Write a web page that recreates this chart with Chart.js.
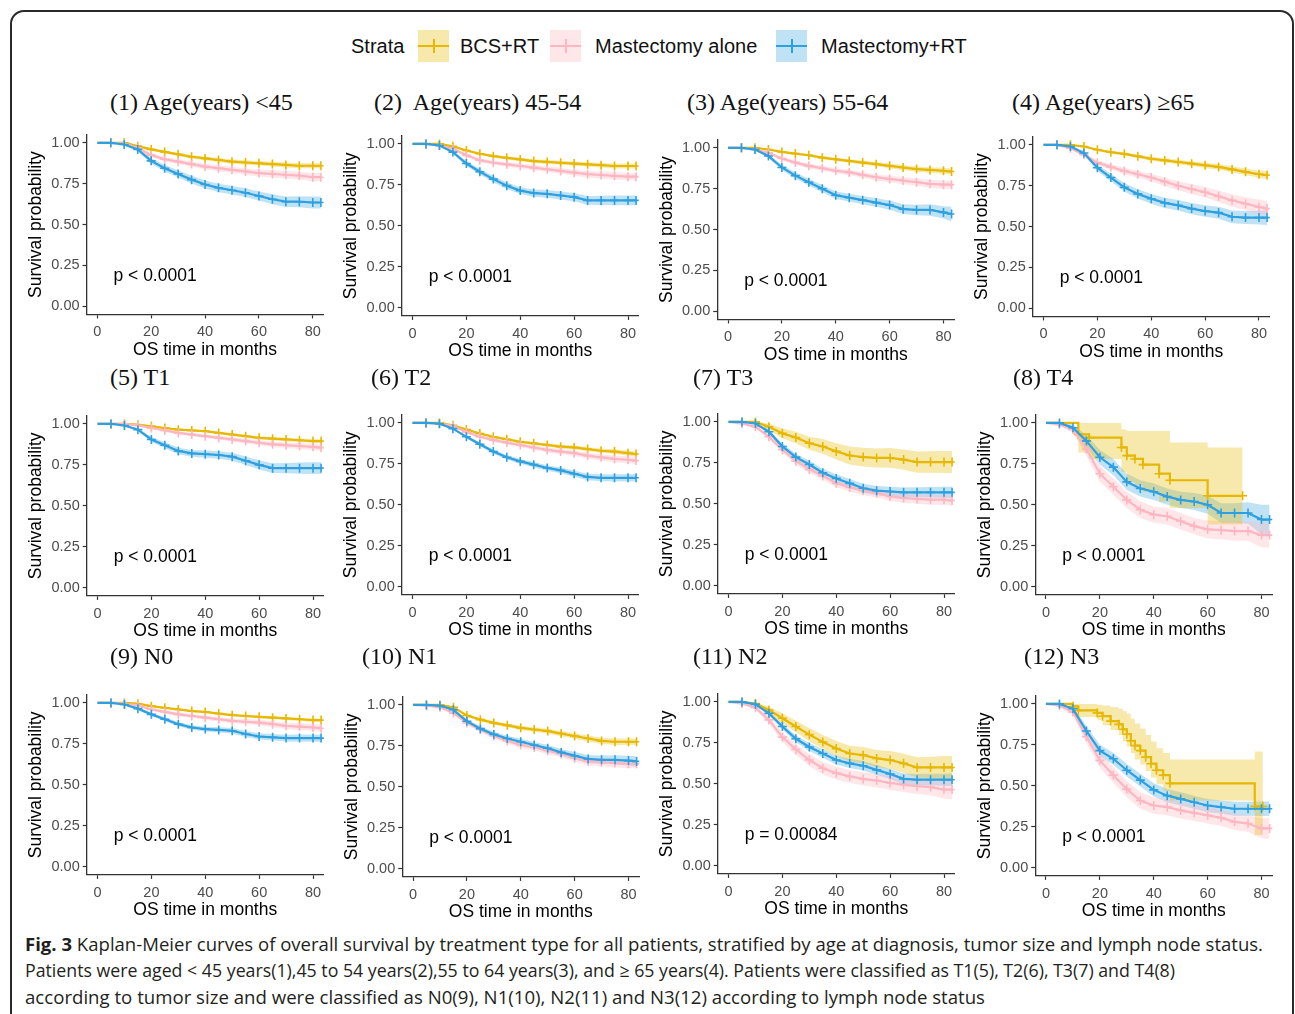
<!DOCTYPE html>
<html><head><meta charset="utf-8">
<script src="https://cdn.jsdelivr.net/npm/chart.js@4.4.1/dist/chart.umd.min.js"></script>
<style>
html,body{margin:0;padding:0;background:#fff}
body{width:1295px;height:1014px;position:relative;overflow:hidden;font-family:"Liberation Sans",Arial,sans-serif}
#frame{position:absolute;left:10px;top:10px;width:1284px;height:1030px;border:2px solid #2a2a2a;border-radius:14px;box-sizing:border-box}
.ptitle{position:absolute;font-family:"Liberation Serif","Times New Roman",serif;font-size:24px;line-height:24px;color:#111;white-space:pre;transform:translateY(-50%)}
canvas{position:absolute}
.lt{position:absolute;top:46px;transform:translateY(-50%);font-size:20px;line-height:20px;color:#111;white-space:pre}
.key{position:absolute;top:30px;width:31px;height:32px}
.key i{position:absolute;left:0;right:0;top:15px;height:2px}
.key b{position:absolute;left:14.5px;width:2px;top:9px;height:14px}
.cap{position:absolute;left:25px;font-family:"Open Sans","Noto Sans",sans-serif;font-size:18px;line-height:20px;color:#231f20;white-space:pre;transform-origin:0 50%}
</style></head>
<body>
<div id="frame"></div>
<div id="legend"></div>
<div id="panels"></div>
<div class="cap" id="cap1" style="top:934px"><b>Fig. 3</b> Kaplan-Meier curves of overall survival by treatment type for all patients, stratified by age at diagnosis, tumor size and lymph node status.</div>
<div class="cap" id="cap2" style="top:960px">Patients were aged &lt; 45 years(1),45 to 54 years(2),55 to 64 years(3), and ≥ 65 years(4). Patients were classified as T1(5), T2(6), T3(7) and T4(8)</div>
<div class="cap" id="cap3" style="top:987px">according to tumor size and were classified as N0(9), N1(10), N2(11) and N3(12) according to lymph node status</div>
<script>
// ---------------- DATA ----------------
const months = [0,5,10,15,20,25,30,35,40,45,50,55,60,65,70,75,80,83];
const strata = ['BCS+RT','Mastectomy alone','Mastectomy+RT'];
const panelTitles = ['(1) Age(years) <45','(2)  Age(years) 45-54','(3) Age(years) 55-64','(4) Age(years) \u226565',
  '(5) T1','(6) T2','(7) T3','(8) T4','(9) N0','(10) N1','(11) N2','(12) N3'];
const pValues = ['p < 0.0001','p < 0.0001','p < 0.0001','p < 0.0001','p < 0.0001','p < 0.0001',
  'p < 0.0001','p < 0.0001','p < 0.0001','p < 0.0001','p = 0.00084','p < 0.0001'];
const xTicks = [0,20,40,60,80];
const yTicks = [0,0.25,0.5,0.75,1];
const xTitle = 'OS time in months';
const yTitle = 'Survival probability';
const legendTitle = 'Strata';

// (1) Age <45
const p1_bcs     = [1,1,1,.98,.96,.945,.93,.915,.905,.895,.885,.88,.875,.87,.865,.86,.86,.86];
const p1_bcs_ci  = [0,0,0,.005,.008,.009,.01,.011,.012,.012,.013,.013,.014,.015,.015,.016,.016,.016];
const p1_mast    = [1,1,.995,.97,.925,.9,.885,.87,.855,.845,.835,.825,.815,.81,.805,.8,.79,.79];
const p1_mast_ci = [0,0,.003,.008,.012,.014,.015,.016,.017,.018,.019,.02,.021,.022,.023,.024,.025,.025];
const p1_mrt     = [1,1,.99,.96,.89,.845,.81,.775,.745,.725,.71,.695,.675,.655,.64,.64,.635,.635];
const p1_mrt_ci  = [0,0,.005,.012,.018,.02,.022,.023,.024,.025,.026,.027,.028,.03,.032,.034,.036,.036];
// (2) Age 45-54
const p2_bcs     = [1,1,1,.985,.96,.94,.925,.915,.905,.895,.89,.885,.88,.875,.87,.865,.865,.865];
const p2_bcs_ci  = [0,0,0,.004,.007,.008,.009,.01,.011,.011,.012,.012,.013,.013,.014,.014,.015,.015];
const p2_mast    = [1,1,.99,.97,.93,.9,.885,.875,.865,.855,.845,.835,.825,.815,.81,.805,.8,.8];
const p2_mast_ci = [0,0,.004,.008,.01,.012,.013,.014,.015,.016,.017,.018,.019,.02,.021,.022,.022,.022];
const p2_mrt     = [1,1,.99,.95,.88,.83,.785,.745,.715,.7,.695,.685,.675,.655,.655,.655,.655,.655];
const p2_mrt_ci  = [0,0,.005,.01,.015,.017,.019,.02,.021,.022,.023,.024,.025,.027,.028,.03,.03,.03];
// (3) Age 55-64
const p3_bcs     = [1,1,1,.99,.975,.965,.955,.94,.93,.92,.91,.9,.89,.88,.87,.865,.86,.855];
const p3_bcs_ci  = [0,0,0,.003,.006,.007,.008,.009,.01,.011,.012,.013,.014,.015,.016,.017,.018,.018];
const p3_mast    = [1,1,.99,.97,.935,.91,.89,.875,.86,.85,.835,.82,.81,.8,.79,.78,.775,.775];
const p3_mast_ci = [0,0,.004,.008,.011,.013,.014,.015,.016,.017,.018,.019,.02,.021,.022,.024,.025,.025];
const p3_mrt     = [1,1,.99,.95,.88,.83,.79,.75,.71,.695,.68,.665,.65,.625,.62,.62,.605,.595];
const p3_mrt_ci  = [0,0,.005,.011,.016,.019,.021,.022,.023,.024,.025,.026,.028,.03,.032,.035,.038,.045];
// (4) Age >=65
const p4_bcs     = [1,1,1,.99,.97,.955,.945,.93,.915,.905,.895,.885,.875,.865,.85,.835,.82,.815];
const p4_bcs_ci  = [0,0,0,.004,.007,.009,.01,.011,.012,.013,.014,.015,.016,.018,.019,.02,.022,.025];
const p4_mast    = [1,1,.98,.94,.89,.865,.84,.82,.8,.775,.75,.73,.71,.685,.66,.64,.62,.61];
const p4_mast_ci = [0,0,.006,.012,.016,.018,.02,.022,.024,.026,.028,.03,.032,.035,.038,.04,.045,.045];
const p4_mrt     = [1,1,.99,.95,.86,.8,.74,.7,.67,.645,.63,.61,.595,.585,.56,.555,.555,.555];
const p4_mrt_ci  = [0,0,.006,.013,.02,.023,.026,.028,.03,.031,.032,.034,.035,.037,.039,.04,.042,.045];
// (5) T1
const p5_bcs     = [1,1,1,.995,.985,.975,.965,.96,.955,.945,.935,.925,.915,.91,.905,.9,.895,.895];
const p5_bcs_ci  = [0,0,0,.002,.004,.005,.006,.007,.007,.008,.008,.009,.01,.01,.011,.011,.012,.012];
const p5_mast    = [1,1,1,.99,.975,.96,.945,.935,.925,.915,.905,.895,.885,.875,.87,.865,.86,.855];
const p5_mast_ci = [0,0,.002,.004,.006,.008,.009,.01,.011,.012,.013,.014,.015,.016,.017,.018,.019,.02];
const p5_mrt     = [1,1,.99,.965,.905,.87,.835,.82,.815,.81,.8,.775,.75,.73,.73,.73,.73,.73];
const p5_mrt_ci  = [0,0,.005,.01,.015,.018,.02,.021,.022,.023,.024,.026,.028,.03,.032,.034,.036,.036];
// (6) T2
const p6_bcs     = [1,1,1,.985,.96,.935,.915,.9,.885,.875,.865,.855,.85,.84,.83,.825,.815,.81];
const p6_bcs_ci  = [0,0,0,.003,.005,.006,.007,.008,.009,.009,.01,.011,.012,.012,.013,.014,.015,.015];
const p6_mast    = [1,1,.995,.98,.945,.915,.895,.88,.865,.85,.835,.825,.815,.8,.79,.78,.775,.77];
const p6_mast_ci = [0,0,.003,.005,.008,.01,.011,.012,.013,.014,.015,.016,.017,.018,.019,.02,.021,.021];
const p6_mrt     = [1,1,.995,.965,.915,.87,.825,.79,.765,.745,.725,.71,.69,.67,.665,.665,.665,.665];
const p6_mrt_ci  = [0,0,.003,.006,.01,.012,.013,.014,.015,.016,.017,.018,.019,.02,.021,.022,.023,.023];
// (7) T3
const p7_bcs     = [1,1,1,.97,.93,.905,.87,.85,.82,.795,.785,.78,.78,.77,.755,.755,.755,.755];
const p7_bcs_ci  = [0,0,0,.02,.03,.035,.04,.045,.05,.055,.057,.058,.06,.062,.065,.066,.067,.067];
const p7_mast    = [1,.99,.97,.91,.83,.76,.71,.67,.625,.6,.58,.565,.545,.535,.53,.525,.525,.52];
const p7_mast_ci = [0,.004,.008,.014,.018,.02,.022,.023,.024,.025,.026,.027,.028,.029,.03,.031,.032,.032];
const p7_mrt     = [1,1,.99,.94,.85,.785,.74,.69,.655,.625,.595,.58,.575,.57,.57,.57,.57,.57];
const p7_mrt_ci  = [0,0,.005,.012,.018,.021,.023,.024,.025,.026,.027,.028,.029,.03,.031,.032,.034,.034];
// (8) T4  (BCS+RT read at its own step times)
const p8_bcs_t   = [0,12,16,28,30,33,36,42,46,60,73];
const p8_bcs     = [1,.93,.91,.85,.80,.78,.745,.69,.65,.555,.555];
const p8_bcs_lo  = [1,.82,.78,.70,.64,.62,.58,.52,.48,.38,.38];
const p8_bcs_hi  = [1,1,1,.96,.95,.95,.95,.95,.88,.85,.85];
const p8_mast    = [1,.99,.96,.84,.69,.61,.53,.47,.44,.43,.4,.37,.35,.345,.34,.34,.315,.315];
const p8_mast_ci = [0,.01,.02,.04,.05,.05,.05,.05,.05,.05,.05,.05,.055,.055,.06,.06,.075,.075];
const p8_mrt     = [1,1,.97,.89,.79,.73,.64,.6,.58,.55,.53,.52,.5,.45,.45,.45,.41,.41];
const p8_mrt_ci  = [0,0,.02,.035,.045,.05,.05,.05,.05,.05,.05,.052,.055,.06,.06,.065,.09,.09];
// (9) N0
const p9_bcs     = [1,1,1,.995,.98,.97,.96,.95,.945,.935,.925,.92,.915,.91,.905,.9,.895,.895];
const p9_bcs_ci  = [0,0,0,.002,.003,.004,.005,.006,.006,.007,.007,.008,.008,.009,.009,.01,.01,.01];
const p9_mast    = [1,1,.995,.985,.96,.945,.93,.92,.91,.9,.89,.885,.88,.87,.86,.855,.85,.845];
const p9_mast_ci = [0,0,.003,.005,.008,.01,.011,.012,.013,.014,.015,.016,.017,.018,.019,.02,.021,.021];
const p9_mrt     = [1,1,.99,.965,.93,.9,.87,.85,.84,.835,.83,.81,.795,.79,.785,.785,.785,.785];
const p9_mrt_ci  = [0,0,.004,.007,.01,.012,.013,.014,.015,.016,.017,.018,.019,.02,.021,.022,.022,.022];
// (10) N1
const p10_bcs     = [1,1,1,.985,.935,.91,.89,.875,.86,.85,.84,.825,.81,.795,.78,.775,.775,.775];
const p10_bcs_ci  = [0,0,0,.004,.008,.01,.011,.012,.013,.014,.015,.016,.017,.018,.019,.02,.02,.02];
const p10_mast    = [1,.995,.985,.95,.89,.85,.81,.78,.755,.74,.72,.7,.675,.655,.65,.645,.64,.64];
const p10_mast_ci = [0,.002,.005,.009,.013,.015,.016,.017,.018,.019,.02,.021,.022,.023,.024,.025,.026,.026];
const p10_mrt     = [1,1,.995,.97,.9,.855,.82,.795,.775,.755,.735,.71,.69,.67,.665,.665,.66,.655];
const p10_mrt_ci  = [0,0,.003,.007,.012,.014,.016,.017,.018,.019,.02,.021,.022,.024,.026,.028,.03,.032];
// (11) N2
const p11_bcs     = [1,1,.99,.95,.9,.85,.8,.755,.715,.685,.675,.655,.645,.625,.6,.6,.6,.6];
const p11_bcs_ci  = [0,0,.008,.02,.03,.035,.04,.043,.046,.048,.05,.052,.055,.058,.062,.065,.07,.07];
const p11_mast    = [1,.99,.965,.89,.785,.71,.645,.595,.565,.545,.53,.52,.505,.495,.485,.48,.465,.465];
const p11_mast_ci = [0,.005,.012,.022,.03,.034,.036,.038,.039,.04,.041,.042,.043,.045,.047,.05,.055,.06];
const p11_mrt     = [1,1,.985,.93,.85,.775,.725,.685,.645,.625,.61,.585,.56,.53,.525,.525,.525,.525];
const p11_mrt_ci  = [0,0,.005,.012,.018,.022,.024,.026,.027,.028,.029,.03,.031,.033,.035,.036,.037,.038];
// (12) N3  (BCS+RT read at its own step times)
const p12_bcs_t   = [0,10,12,19,21,24,27,28.5,30,31.5,33,35,37,39,41,43.5,46,77.5,80.5];
const p12_bcs     = [1,.985,.96,.945,.925,.895,.875,.845,.815,.775,.745,.715,.675,.635,.595,.565,.515,.375,.375];
const p12_bcs_lo  = [1,.96,.92,.9,.87,.84,.81,.77,.74,.7,.66,.63,.59,.55,.51,.47,.41,.2,.2];
const p12_bcs_hi  = [1,1,1,.995,.99,.98,.97,.955,.94,.91,.88,.85,.81,.77,.73,.7,.66,.71,.71];
const p12_mast    = [1,.99,.95,.8,.655,.565,.48,.41,.38,.37,.35,.335,.32,.305,.28,.27,.24,.24];
const p12_mast_ci = [0,.01,.02,.04,.045,.048,.05,.05,.05,.05,.05,.05,.05,.05,.05,.05,.06,.065];
const p12_mrt     = [1,1,.97,.835,.715,.665,.595,.535,.475,.44,.42,.4,.38,.37,.36,.36,.36,.36];
const p12_mrt_ci  = [0,0,.012,.03,.035,.037,.038,.039,.04,.04,.04,.04,.04,.041,.042,.043,.045,.045];

// ---------------- STYLE / LAYOUT ----------------
const strataColors = ['#E7B800','#FFB6C1','#2E9FDF'];
const bandColors = ['rgba(231,184,0,0.33)','rgba(255,182,193,0.35)','rgba(46,159,223,0.3)'];
const FONT = '"Liberation Sans", Arial, sans-serif';
// pixel of x=0 and y=1 for each panel
const panelOrigin = [[97.3,137.5],[412.5,139],[728,142.5],[1043.5,139.5],
                     [97.5,419],[412.5,418],[728.5,417],[1046,418],
                     [97.5,698],[413,700],[728.5,697],[1046,699]];
const titlePos = [[110,102],[374,102],[687,102],[1012,102],[110,377],[371,377],[693,377],[1013,377],[110,656],[362,656],[693,656],[1024,656]];
const XMIN=-4, XMAX=84, YMIN=-0.05, YMAX=1.05;
const PPM = 215.5/80, PPU = 168.5;

function grid(s, ci){ return {t:months, s, lo:s.map((v,j)=>Math.max(0,v-ci[j])), hi:s.map((v,j)=>Math.min(1,v+ci[j])), stepped:false}; }
function own(t, s, lo, hi){ return {t, s, lo, hi, stepped:'before'}; }

const panelSeries = [
  [grid(p1_bcs,p1_bcs_ci), grid(p1_mast,p1_mast_ci), grid(p1_mrt,p1_mrt_ci)],
  [grid(p2_bcs,p2_bcs_ci), grid(p2_mast,p2_mast_ci), grid(p2_mrt,p2_mrt_ci)],
  [grid(p3_bcs,p3_bcs_ci), grid(p3_mast,p3_mast_ci), grid(p3_mrt,p3_mrt_ci)],
  [grid(p4_bcs,p4_bcs_ci), grid(p4_mast,p4_mast_ci), grid(p4_mrt,p4_mrt_ci)],
  [grid(p5_bcs,p5_bcs_ci), grid(p5_mast,p5_mast_ci), grid(p5_mrt,p5_mrt_ci)],
  [grid(p6_bcs,p6_bcs_ci), grid(p6_mast,p6_mast_ci), grid(p6_mrt,p6_mrt_ci)],
  [grid(p7_bcs,p7_bcs_ci), grid(p7_mast,p7_mast_ci), grid(p7_mrt,p7_mrt_ci)],
  [own(p8_bcs_t,p8_bcs,p8_bcs_lo,p8_bcs_hi), grid(p8_mast,p8_mast_ci), grid(p8_mrt,p8_mrt_ci)],
  [grid(p9_bcs,p9_bcs_ci), grid(p9_mast,p9_mast_ci), grid(p9_mrt,p9_mrt_ci)],
  [grid(p10_bcs,p10_bcs_ci), grid(p10_mast,p10_mast_ci), grid(p10_mrt,p10_mrt_ci)],
  [grid(p11_bcs,p11_bcs_ci), grid(p11_mast,p11_mast_ci), grid(p11_mrt,p11_mrt_ci)],
  [own(p12_bcs_t,p12_bcs,p12_bcs_lo,p12_bcs_hi), grid(p12_mast,p12_mast_ci), grid(p12_mrt,p12_mrt_ci)]
];

// legend
(function(){
  const lg = document.getElementById('legend');
  const keyX = [418,550,776], textX = [460,595,821];
  let h = '<span class="lt" style="left:351px">'+legendTitle+'</span>';
  strata.forEach((n,i)=>{
    h += '<div class="key" style="left:'+keyX[i]+'px;background:'+bandColors[i]+'"><i style="background:'+strataColors[i]+'"></i><b style="background:'+strataColors[i]+'"></b></div>';
    h += '<span class="lt" style="left:'+textX[i]+'px">'+n+'</span>';
  });
  lg.innerHTML = h;
})();

const pvalPlugin = {
  id:'pval',
  afterDatasetsDraw(chart, args, opts){
    const {ctx, scales:{x,y}} = chart;
    ctx.save();
    ctx.font = '17.5px ' + FONT;
    ctx.fillStyle = '#000';
    ctx.textBaseline = 'middle';
    ctx.textAlign = 'left';
    ctx.fillText(opts.text, x.getPixelForValue(6), y.getPixelForValue(0.185));
    ctx.restore();
  }
};

function makePanel(i){
  const [x0, y1] = panelOrigin[i];
  const axisX = x0 + XMIN*PPM;
  const plotTop = y1 - (YMAX-1)*PPU;
  const plotW = (XMAX-XMIN)*PPM, plotH = (YMAX-YMIN)*PPU;
  const YW = 60, XH = 46;
  const left = Math.floor(axisX - YW), top = Math.floor(plotTop - 6);
  const W = Math.ceil(axisX + plotW + 8) - left;
  const H = Math.ceil(plotTop + plotH + XH + 3) - top;
  const padTop = plotTop - top;
  const yW = axisX - left;
  const padRight = W - yW - plotW;
  const padBottom = H - padTop - plotH - XH;
  const cv = document.createElement('canvas');
  cv.width = W; cv.height = H;
  cv.style.left = left+'px'; cv.style.top = top+'px';
  cv.style.width = W+'px'; cv.style.height = H+'px';
  document.getElementById('panels').appendChild(cv);

  const t = document.createElement('div');
  t.className = 'ptitle';
  t.textContent = panelTitles[i];
  t.style.left = titlePos[i][0]+'px'; t.style.top = titlePos[i][1]+'px';
  document.getElementById('panels').appendChild(t);

  const datasets = [];
  panelSeries[i].forEach((se, k)=>{
    datasets.push({data: se.t.map((x,j)=>({x, y:se.lo[j]})), borderWidth:0, pointRadius:0, fill:false, stepped:se.stepped, tension:0, order:10});
    datasets.push({data: se.t.map((x,j)=>({x, y:se.hi[j]})), borderWidth:0, pointRadius:0, fill:'-1', backgroundColor:bandColors[k], stepped:se.stepped, tension:0, order:10});
  });
  panelSeries[i].forEach((se, k)=>{
    datasets.push({label:strata[k], data: se.t.map((x,j)=>({x, y:se.s[j]})), borderColor:strataColors[k], backgroundColor:strataColors[k],
      borderWidth:2.2, stepped:se.stepped, tension:0, fill:false, pointStyle:'cross',
      pointRadius:(c)=> c.dataIndex===0 ? 0 : 4.5, pointBorderColor:strataColors[k], pointBorderWidth:1.6, order:3-k});
  });

  const axisCommon = {
    grid:{drawOnChartArea:false, drawTicks:true, tickLength:4, tickColor:'#333', tickWidth:1.2},
    border:{display:true, color:'#333', width:1.3}
  };
  new Chart(cv, {
    type:'line',
    data:{datasets},
    plugins:[pvalPlugin],
    options:{
      responsive:false, maintainAspectRatio:false, animation:false, devicePixelRatio:1,
      layout:{padding:{top:padTop, right:padRight, bottom:padBottom, left:0}},
      plugins:{legend:{display:false}, tooltip:{enabled:false}, pval:{text:pValues[i]}},
      scales:{
        x:Object.assign({type:'linear', min:XMIN, max:XMAX,
          afterBuildTicks:(s)=>{ s.ticks = xTicks.map(v=>({value:v})); },
          ticks:{color:'#4d4d4d', font:{size:14.5, family:FONT}, padding:5, maxRotation:0, autoSkip:false, callback:(v)=>String(v)},
          title:{display:true, text:xTitle, color:'#000', font:{size:17.5, family:FONT}, padding:0},
          afterFit:(s)=>{ s.height = XH; }
        }, axisCommon),
        y:Object.assign({type:'linear', min:YMIN, max:YMAX,
          afterBuildTicks:(s)=>{ s.ticks = yTicks.map(v=>({value:v})); },
          ticks:{color:'#4d4d4d', font:{size:14.5, family:FONT}, padding:3, autoSkip:false, callback:(v)=>Number(v).toFixed(2)},
          title:{display:true, text:yTitle, color:'#000', font:{size:17.5, family:FONT}, padding:0},
          afterFit:(s)=>{ s.width = yW; }
        }, axisCommon)
      }
    }
  });
}

function fitCaption(){
  const targets = {cap1:1238, cap2:1150, cap3:960};
  Object.keys(targets).forEach(id=>{
    const el = document.getElementById(id);
    const w = el.getBoundingClientRect().width;
    el.style.transform = 'scaleX(' + (targets[id]/w) + ')';
  });
}

function build(){
  for (let i=0;i<12;i++) makePanel(i);
  fitCaption();
}
if (document.fonts && document.fonts.ready) { document.fonts.ready.then(build); } else { build(); }
</script>
</body></html>
